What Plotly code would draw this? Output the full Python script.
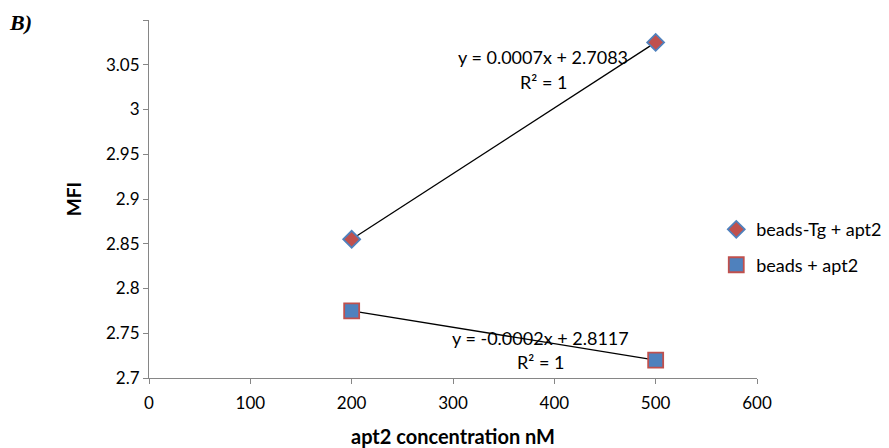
import numpy as np
import plotly.graph_objects as go

conc = [200, 500]
tg_vals = [2.855, 3.075]
beads_vals = [2.775, 2.72]
series_names = ["beads-Tg + apt2", "beads + apt2"]
x_ticks = [0, 100, 200, 300, 400, 500, 600]
y_ticks = [2.7, 2.75, 2.8, 2.85, 2.9, 2.95, 3.0, 3.05, 3.1]
y_tick_text = ["2.7", "2.75", "2.8", "2.85", "2.9", "2.95", "3", "3.05", ""]
eq_texts = ["y = 0.0007x + 2.7083", "y = -0.0002x + 2.8117"]

BLUE = "#4F81BD"
RED = "#C0504D"
AX = "#868686"
FONT = "Lato, Arial"

fig = go.Figure()

for vals in (tg_vals, beads_vals):
    m, b = np.polyfit(conc, vals, 1)
    xs = np.array(conc, dtype=float)
    fig.add_trace(go.Scatter(x=xs, y=m * xs + b, mode="lines",
                             line=dict(color="black", width=1.3),
                             showlegend=False, hoverinfo="skip"))

fig.add_trace(go.Scatter(x=conc, y=tg_vals, mode="markers", name=series_names[0],
                         legendgroup="a",
                         marker=dict(symbol="diamond", size=13, color=RED,
                                     line=dict(color=BLUE, width=1.8))))
fig.add_trace(go.Scatter(x=conc, y=beads_vals, mode="markers", name=series_names[1],
                         legendgroup="b",
                         marker=dict(symbol="square", size=15, color=BLUE,
                                     line=dict(color=RED, width=1.8))))

eq_font = dict(size=18, color="black", family=FONT)
fig.add_annotation(x=389, y=3.0587, text=eq_texts[0], showarrow=False,
                   xanchor="center", yanchor="middle", font=eq_font)
fig.add_annotation(x=389, y=3.0307, text="R² = 1", showarrow=False,
                   xanchor="center", yanchor="middle", font=eq_font)
fig.add_annotation(x=386, y=2.7447, text=eq_texts[1], showarrow=False,
                   xanchor="center", yanchor="middle", font=eq_font)
fig.add_annotation(x=386, y=2.7179, text="R² = 1", showarrow=False,
                   xanchor="center", yanchor="middle", font=eq_font)

fig.add_annotation(xref="paper", yref="paper", x=-0.234, y=0.994, text="<b><i>B)</i></b>",
                   showarrow=False, xanchor="left", yanchor="middle",
                   font=dict(size=22, family="Liberation Serif, Times New Roman", color="black"))

fig.update_layout(
    width=889, height=448,
    margin=dict(l=149, r=132, t=20, b=70, autoexpand=False),
    plot_bgcolor="white", paper_bgcolor="white",
    font=dict(family=FONT, size=18, color="black"),
    legend=dict(x=0.933, y=0.466, xanchor="left", yanchor="top",
                tracegroupgap=9, traceorder="grouped",
                font=dict(size=18, family=FONT), itemwidth=30, bgcolor="rgba(0,0,0,0)"),
    xaxis=dict(range=[0, 600], tickvals=x_ticks, ticks="outside", ticklen=5,
               tickcolor=AX, showline=True, linecolor=AX, linewidth=1,
               showgrid=False, zeroline=False, tickfont=dict(size=17),
               ticklabelstandoff=5,
               title=dict(text="<b>apt2 concentration nM</b>", standoff=18,
                          font=dict(size=20, family=FONT))),
    yaxis=dict(range=[2.7, 3.1], tickvals=y_ticks, ticktext=y_tick_text,
               ticks="outside", ticklen=5, tickcolor=AX, showline=True,
               linecolor=AX, linewidth=1, showgrid=False, zeroline=False,
               tickfont=dict(size=17),
               title=dict(text="<b>MFI</b>", standoff=19, font=dict(size=19, family=FONT))),
)

fig.write_html("out.html", post_script="document.body.style.margin='0';",
               config={"displayModeBar": False})
